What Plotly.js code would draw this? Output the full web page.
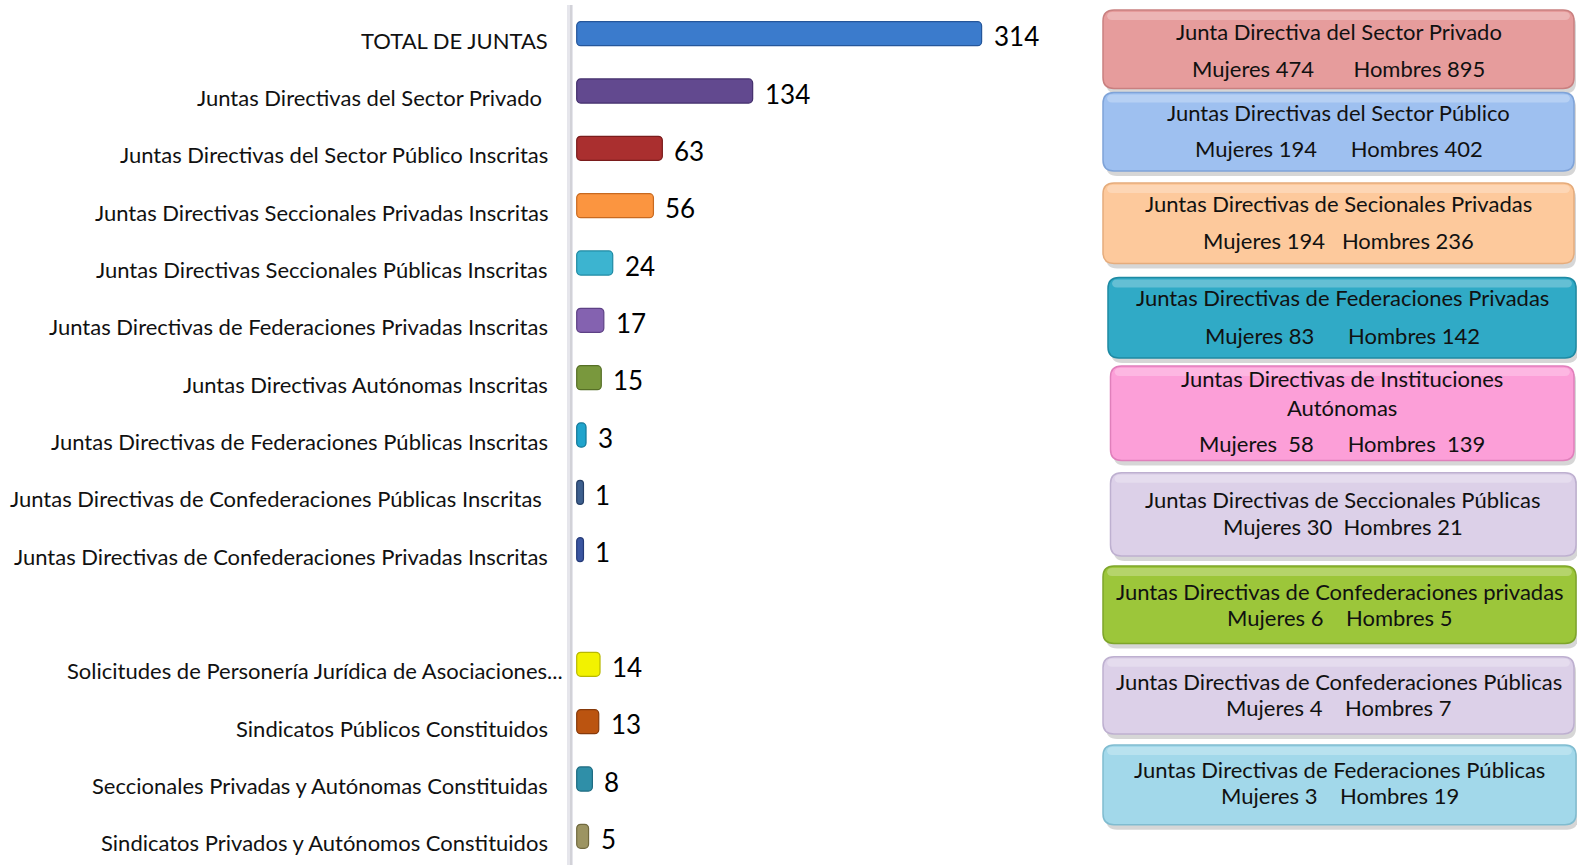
<!DOCTYPE html>
<html>
<head>
<meta charset="utf-8">
<script src="https://cdn.plot.ly/plotly-3.0.1.min.js"></script>
<style>html,body{margin:0;padding:0;background:#fff;}#chart{width:1577px;height:865px;}</style>
</head>
<body>
<div id="chart"></div>
<script>
// ---- DATA ----
const categories = [
  "TOTAL DE JUNTAS",
  "Juntas Directivas del Sector Privado\u00a0",
  "Juntas Directivas del Sector Público Inscritas",
  "Juntas Directivas Seccionales Privadas Inscritas",
  "Juntas Directivas Seccionales Públicas Inscritas",
  "Juntas Directivas de Federaciones Privadas Inscritas",
  "Juntas Directivas Autónomas Inscritas",
  "Juntas Directivas de Federaciones Públicas Inscritas",
  "Juntas Directivas de Confederaciones Públicas Inscritas\u00a0",
  "Juntas Directivas de Confederaciones Privadas Inscritas",
  " ",
  "Solicitudes de Personería Jurídica de Asociaciones...",
  "Sindicatos Públicos Constituidos",
  "Seccionales Privadas y Autónomas Constituidas",
  "Sindicatos Privados y Autónomos Constituidos"
];
const values = [314, 134, 63, 56, 24, 17, 15, 3, 1, 1, null, 14, 13, 8, 5];
const barColors = ["#3b7bcc","#62498f","#aa2f2f","#fb9540","#3cb4d0","#8462b0","#79983d","#20a4cc","#3d5f8e","#3a55a0","#ffffff","#f2f200","#bb5410","#2f8fa8","#9c9462"];
const barEdges  = ["#25569a","#432f6c","#7a1c1c","#c8691f","#1f8aa3","#5d4185","#566f26","#137898","#263f66","#243a78","#ffffff","#b8b800","#86390a","#1c6a80","#716a40"];

const boxTitles = [
  "Junta Directiva del Sector Privado",
  "Juntas Directivas del Sector Público",
  "Juntas Directivas de Secionales Privadas",
  "Juntas Directivas de Federaciones Privadas",
  "Juntas Directivas de Instituciones<br>Autónomas",
  "Juntas Directivas de Seccionales Públicas",
  "Juntas Directivas de Confederaciones privadas",
  "Juntas Directivas de Confederaciones Públicas",
  "Juntas Directivas de Federaciones Públicas"
];
const boxMujeres = [474, 194, 194, 83, 58, 30, 6, 4, 3];
const boxHombres = [895, 402, 236, 142, 139, 21, 5, 7, 19];
const boxColors = ["#e69c9c","#9ec0f0","#fdc99c","#30aac6","#fc9fd8","#dcd0e8","#9cc63a","#dcd0e8","#a2d8ea"];
const boxEdges  = ["#c98080","#7fa3d8","#e5ac7c","#1e8aa3","#e07fbb","#beb0d0","#7ea52a","#beb0d0","#80bcd0"];

// ---- LAYOUT GEOMETRY ----
const W = 1577, H = 865;
const ML = 572, MT = 5, MB = 0;
const paperW = W - ML, paperH = H - MT - MB;
const px = x => (x - ML) / paperW;
const py = y => (H - MB - y) / paperH;

const boxGeom = [
  [1103, 10, 1574, 88.5],
  [1103, 92.5, 1574, 171],
  [1103, 183, 1574, 263.5],
  [1108, 277.6, 1576, 358],
  [1110.5, 366, 1574, 460.6],
  [1110.5, 472.7, 1576, 556],
  [1103, 566, 1576, 643.6],
  [1103, 656.7, 1574, 734],
  [1103, 745, 1576, 824.7]
];
const titleY = [31.2, 112.6, 203, 297.7, 393, 499.8, 591.4, 681, 769.4];
const countY = [68.4, 148.8, 240.4, 335, 443.5, 526, 617.5, 707, 795.5];
const countGap = [7, 6, 3, 6, 6, 2, 4, 4, 4];

function roundRect(x0, y0, x1, y1, r) {
  const X0 = px(x0), X1 = px(x1), Y0 = py(y0), Y1 = py(y1);
  const rx = r / paperW, ry = r / paperH;
  return `M ${X0+rx},${Y0} L ${X1-rx},${Y0} Q ${X1},${Y0} ${X1},${Y0-ry} L ${X1},${Y1+ry} Q ${X1},${Y1} ${X1-rx},${Y1} L ${X0+rx},${Y1} Q ${X0},${Y1} ${X0},${Y1+ry} L ${X0},${Y0-ry} Q ${X0},${Y0} ${X0+rx},${Y0} Z`;
}

const shapes = [];
const annotations = [];
const font = "Lato, 'Open Sans', sans-serif";

// axis wall
shapes.push({type:'rect', xref:'paper', yref:'paper', x0:px(567), x1:px(573), y0:0, y1:1, fillcolor:'#e6e6ec', line:{width:0}, layer:'below'});

boxGeom.forEach((g, i) => {
  shapes.push({type:'path', xref:'paper', yref:'paper', path: roundRect(g[0]+3, g[1]+4, g[2]+2, g[3]+5, 11), fillcolor:'rgba(0,0,0,0.16)', line:{width:0}});
  shapes.push({type:'path', xref:'paper', yref:'paper', path: roundRect(g[0], g[1], g[2], g[3], 11), fillcolor: boxColors[i], line:{color: boxEdges[i], width:1.5}});
  shapes.push({type:'path', xref:'paper', yref:'paper', path: roundRect(g[0]+4, g[1]+2, g[2]-4, g[1]+10, 5), fillcolor:'rgba(255,255,255,0.25)', line:{width:0}});
  const cx = px((g[0] + g[2]) / 2);
  annotations.push({xref:'paper', yref:'paper', x: cx, y: py(titleY[i]), text: boxTitles[i], showarrow:false, xanchor:'center', yanchor:'middle', font:{family:font, size:22, color:'#111'}});
  const gap = '\u00a0'.repeat(countGap[i]);
  const extra = i === 4 ? '\u00a0' : '';
  annotations.push({xref:'paper', yref:'paper', x: cx, y: py(countY[i]), text: 'Mujeres ' + extra + boxMujeres[i] + gap + 'Hombres ' + extra + boxHombres[i], showarrow:false, xanchor:'center', yanchor:'middle', font:{family:font, size:22, color:'#111'}});
});

// category labels (drawn lower than bar centres, as in the 3D original) and value labels
categories.forEach((c, i) => {
  if (values[i] === null) return;
  annotations.push({x: px(550), xref:'paper', y: c, yref:'y', text: c, showarrow:false, xanchor:'right', yanchor:'middle', xshift: (i === 11 ? 15 : 0), yshift: -6.5, font:{family:font, size:22, color:'#111'}});
  annotations.push({x: values[i], y: c, xref:'x', yref:'y', text: String(values[i]), showarrow:false, xanchor:'left', yanchor:'middle', xshift: 10, yshift: -2.5, font:{family:font, size:26, color:'#000'}});
});

// x mapping: bars' 3D depth adds a few pixels in front of the zero line
const XSCALE = 1.272;
const ZERO_PX = 582.2;
const BAR_START_PX = 576.7;
const PLOT_RIGHT_PX = 1090;
const xMin = (ML - ZERO_PX) / XSCALE;
const xMax = xMin + (PLOT_RIGHT_PX - ML) / XSCALE;
const barBase = (BAR_START_PX - ZERO_PX) / XSCALE;

const trace = {
  type: 'bar',
  orientation: 'h',
  y: categories,
  x: values.map(v => v === null ? null : v - barBase),
  base: barBase,
  width: 0.42,
  marker: {color: barColors, line: {color: barEdges, width: 1.2}, cornerradius: 4},
  hoverinfo: 'skip'
};

const layout = {
  width: W, height: H,
  margin: {l: ML, r: 0, t: MT, b: MB, pad: 0},
  paper_bgcolor: '#ffffff',
  plot_bgcolor: 'rgba(0,0,0,0)',
  showlegend: false,
  xaxis: {domain: [0, (PLOT_RIGHT_PX - ML) / paperW], range: [xMin, xMax], showgrid: false, zeroline: false, showticklabels: false, showline: false, fixedrange: true},
  yaxis: {type: 'category', categoryorder: 'array', categoryarray: categories, range: [categories.length - 0.5, -0.5], showgrid: false, zeroline: false, showline: true, linecolor: '#d2d2d8', linewidth: 2, ticks: '', showticklabels: false},
  shapes: shapes,
  annotations: annotations
};

Plotly.newPlot('chart', [trace], layout, {displayModeBar: false, staticPlot: true});
</script>
</body>
</html>
